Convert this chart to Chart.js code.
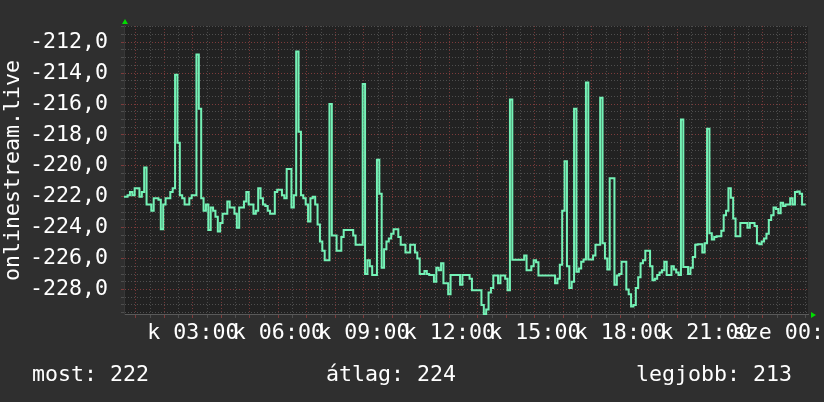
<!DOCTYPE html>
<html>
<head>
<meta charset="utf-8">
<script src="https://cdn.jsdelivr.net/npm/chart.js@4"></script>
<style>
  html, body { margin: 0; padding: 0; background: #2f2f2f; }
  #wrap { width: 824px; height: 402px; }
</style>
</head>
<body>
<div id="wrap"><canvas id="chart"></canvas></div>
<script>
// one reading every 5 minutes, starting Tuesday 00:35
const startMinute = 35;
const stepMinutes = 5;
const values = [
  -222.0, -222.0, -221.9, -221.7, -221.9, -221.45, -221.45, -222.0, -221.7, -220.1,
  -222.5, -222.5, -222.9, -222.1, -222.1, -222.2, -224.1, -222.5, -222.1, -222.1,
  -221.7, -221.45, -214.1, -218.5, -221.9, -222.1, -222.5, -222.5, -222.1, -221.9,
  -221.9, -212.8, -216.3, -222.1, -222.9, -222.5, -224.15, -222.7, -222.9, -223.3,
  -224.25, -223.7, -223.1, -223.1, -222.3, -222.7, -222.7, -223.1, -224.0, -222.7,
  -222.7, -222.3, -221.7, -222.5, -222.5, -223.1, -222.9, -221.45, -222.1, -222.5,
  -222.6, -222.9, -223.1, -223.1, -221.7, -221.55, -221.55, -221.9, -222.1, -220.2,
  -220.2, -222.7, -221.9, -212.6, -217.8, -221.9, -222.1, -222.5, -223.6, -222.1,
  -222.0, -222.5, -223.8, -224.9, -225.5, -226.1, -226.1, -216.0, -224.5, -224.5,
  -225.5, -225.5, -224.6, -224.15, -224.15, -224.15, -224.15, -224.5, -225.1, -225.1,
  -225.1, -214.7, -227.0, -226.1, -226.5, -227.06, -227.06, -219.6, -221.8, -226.6,
  -225.4, -224.9, -224.7, -224.4, -224.1, -224.1, -224.6, -225.1, -225.1, -225.6,
  -225.6, -225.1, -225.1, -225.6, -226.0, -227.0, -227.0, -226.8, -227.0, -227.06,
  -227.06, -227.5, -226.6, -226.75, -226.3, -227.6, -227.6, -228.3, -227.06, -227.06,
  -227.06, -227.06, -227.7, -227.06, -227.06, -227.06, -227.3, -228.05, -228.05, -228.05,
  -228.05, -229.0, -229.6, -229.3, -228.2, -227.9, -227.1, -227.1, -227.6, -227.1,
  -227.1, -227.3, -228.05, -215.7, -226.07, -226.07, -226.07, -226.07, -226.07, -225.8,
  -226.75, -226.75, -226.5, -226.1, -226.23, -227.1, -227.1, -227.1, -227.1, -227.1,
  -227.1, -227.1, -227.6, -227.3, -226.4, -222.9, -219.7, -226.5, -227.9, -227.5,
  -216.3, -226.85, -226.64, -226.2, -226.06, -214.6, -226.06, -226.06, -225.8, -225.1,
  -225.1, -215.6, -225.0, -226.0, -226.7, -220.8, -220.8, -227.7, -227.1, -227.0,
  -226.2, -226.2, -228.0, -228.3, -229.1, -229.0, -227.9, -227.2, -226.3, -226.1,
  -225.5, -225.5, -226.5, -227.4, -227.3, -227.06, -226.9, -226.75, -226.2, -227.06,
  -227.06, -226.5, -226.7, -226.9, -227.06, -217.0, -226.54, -226.54, -227.0, -226.6,
  -225.9, -225.1, -225.08, -225.08, -225.6, -225.0, -217.6, -224.36, -224.77, -224.6,
  -224.56, -224.56, -224.2, -223.2, -222.9, -221.45, -222.07, -223.4, -224.56, -224.56,
  -223.7, -223.69, -223.69, -224.0, -223.69, -223.69, -223.9, -225.0, -225.08, -224.9,
  -224.7, -224.4, -223.5, -223.2, -222.7, -222.8, -223.07, -222.38, -222.6, -222.5,
  -222.5, -222.1, -222.5, -221.7, -221.66, -221.8, -222.5, -222.5
];

const labelMinutes = [180, 360, 540, 720, 900, 1080, 1260, 1440];
const timeLabels = ['k 03:00', 'k 06:00', 'k 09:00', 'k 12:00', 'k 15:00', 'k 18:00', 'k 21:00', 'sze 00:00'];
const yLabelValues = [-228, -226, -224, -222, -220, -218, -216, -214, -212];
const statNames = ['most', 'átlag', 'legjobb'];
const statValues = [222, 224, 213];
const seriesName = 'onlinestream.live';

const FONT = "'DejaVu Sans Mono', monospace";
const FSIZE = 21.6;
const RED = '#7c3b3b';
const GRAY = '#4e4e4e';

const points = values.map((v, i) => ({ x: startMinute + i * stepMinutes, y: v }));

const decor = {
  id: 'decor',
  beforeDraw(chart) {
    const { ctx, chartArea: a } = chart;
    ctx.save();
    ctx.fillStyle = '#222222';
    ctx.fillRect(a.left, a.top, a.right - a.left, a.bottom - a.top);
    ctx.restore();
  },
  afterDraw(chart) {
    const { ctx, chartArea: a } = chart;
    ctx.save();
    // little green arrows at the ends of the axes
    ctx.fillStyle = '#00dd00';
    ctx.beginPath();
    ctx.moveTo(a.left + 1, a.top - 7);
    ctx.lineTo(a.left - 2, a.top - 2);
    ctx.lineTo(a.left + 4, a.top - 2);
    ctx.closePath();
    ctx.fill();
    ctx.beginPath();
    ctx.moveTo(a.right + 8, a.bottom);
    ctx.lineTo(a.right + 3, a.bottom - 3);
    ctx.lineTo(a.right + 3, a.bottom + 3);
    ctx.closePath();
    ctx.fill();
    // legend line
    ctx.fillStyle = '#ffffff';
    ctx.font = FSIZE + 'px ' + FONT;
    ctx.textBaseline = 'alphabetic';
    const xs = [32, 326, 636];
    statNames.forEach((n, i) => ctx.fillText(n + ': ' + statValues[i], xs[i], 381));
    ctx.restore();
  }
};

new Chart(document.getElementById('chart'), {
  type: 'line',
  data: {
    datasets: [{
      label: seriesName,
      data: points,
      borderColor: '#74f2b6',
      borderWidth: 2,
      pointRadius: 0,
      stepped: 'middle',
      fill: false
    }]
  },
  options: {
    responsive: true,
    maintainAspectRatio: false,
    animation: false,
    layout: { padding: { left: 0, top: 15, right: 16, bottom: 0 } },
    plugins: { legend: { display: false }, tooltip: { enabled: false } },
    scales: {
      x: {
        type: 'linear',
        min: startMinute,
        max: startMinute + 1440,
        afterBuildTicks: s => {
          const t = [];
          for (let m = 60; m < startMinute + 1440; m += 30) t.push({ value: m });
          s.ticks = t;
        },
        afterFit: s => { s.height = 87; },
        grid: {
          color: c => (c.tick && c.tick.value % 60 === 0) ? RED : GRAY,
          tickColor: c => (c.tick && c.tick.value % 60 === 0) ? RED : GRAY,
          tickLength: 3,
          lineWidth: 1
        },
        border: { display: true, color: '#5a5a5a', dash: [1, 2] },
        ticks: {
          autoSkip: false,
          maxRotation: 0,
          minRotation: 0,
          padding: 2,
          color: '#ffffff',
          font: { family: FONT, size: FSIZE },
          callback: v => {
            const k = labelMinutes.indexOf(v);
            return k >= 0 ? timeLabels[k] : '';
          }
        }
      },
      y: {
        type: 'linear',
        min: -229.65,
        max: -210.95,
        afterBuildTicks: s => {
          const t = [];
          for (let v = -229.5; v <= -211; v += 0.5) t.push({ value: v });
          s.ticks = t;
        },
        afterFit: s => { s.width = 124; },
        grid: {
          color: c => (c.tick && Math.abs(c.tick.value % 2) < 1e-9) ? RED : GRAY,
          tickColor: c => (c.tick && Math.abs(c.tick.value % 2) < 1e-9) ? RED : GRAY,
          tickLength: 3,
          lineWidth: 1
        },
        border: { display: true, color: '#383838', dash: [1, 2] },
        title: {
          display: true,
          text: seriesName,
          color: '#ffffff',
          font: { family: FONT, size: FSIZE },
          padding: 0
        },
        ticks: {
          autoSkip: false,
          padding: 13,
          color: '#ffffff',
          font: { family: FONT, size: FSIZE },
          callback: v => yLabelValues.includes(v) ? v.toFixed(1).replace('.', ',') : ''
        }
      }
    }
  },
  plugins: [decor]
});
</script>
</body>
</html>
